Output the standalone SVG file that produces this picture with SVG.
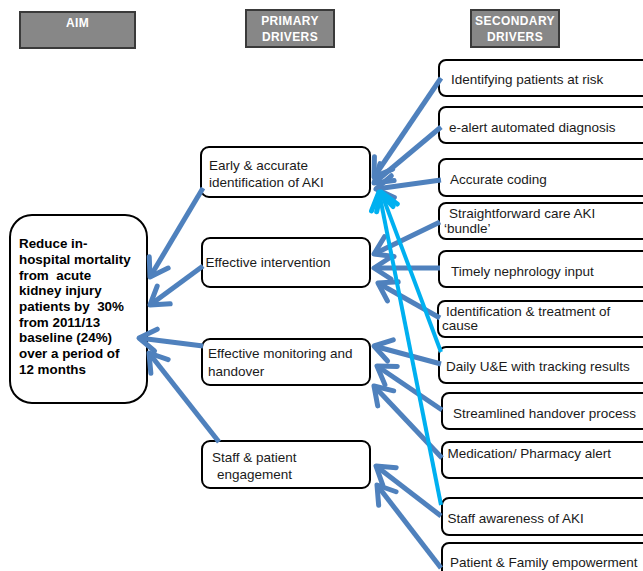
<svg xmlns="http://www.w3.org/2000/svg" width="643" height="571" viewBox="0 0 643 571">
<style>
  .hdr{fill:#878787;stroke:#3a3a3a;stroke-width:2}
  .htx{font-family:"Liberation Sans",Arial,sans-serif;font-weight:bold;font-size:12px;fill:#ffffff;letter-spacing:0.4px;text-anchor:middle}
  .box{fill:#ffffff;stroke:#000000;stroke-width:2}
  .tx{font-family:"Liberation Sans",Arial,sans-serif;font-size:13.5px;fill:#1a1a1a;white-space:pre}
  .aim{font-family:"Liberation Sans",Arial,sans-serif;font-size:13.4px;font-weight:bold;fill:#000000;white-space:pre}
  .ab{stroke:#4F81BD;stroke-width:5;fill:none}
  .ac{stroke:#00B0F0;stroke-width:4;fill:none}
</style>
<defs>
  <marker id="mb" markerUnits="userSpaceOnUse" markerWidth="26" markerHeight="26" viewBox="0 0 26 26" refX="21" refY="13" orient="auto" overflow="visible">
    <path d="M4,2 L21,13 L4,24" fill="none" stroke="#4F81BD" stroke-width="5" stroke-linejoin="round" stroke-linecap="round"/>
  </marker>
  <marker id="mc" markerUnits="userSpaceOnUse" markerWidth="26" markerHeight="26" viewBox="0 0 26 26" refX="21" refY="13" orient="auto" overflow="visible">
    <path d="M4,2 L21,13 L4,24" fill="none" stroke="#00B0F0" stroke-width="5" stroke-linejoin="round" stroke-linecap="round"/>
  </marker>
</defs>

<g id="headers">
  <g id="hdr-aim"><rect class="hdr" x="20" y="12" width="115" height="36"/><text class="htx" x="77.5" y="27">AIM</text></g>
  <g id="hdr-primary"><rect class="hdr" x="246" y="10" width="88" height="37"/><text class="htx" x="290" y="25">PRIMARY</text><text class="htx" x="290" y="41">DRIVERS</text></g>
  <g id="hdr-secondary"><rect class="hdr" x="471" y="10" width="88" height="37"/><text class="htx" x="515" y="25">SECONDARY</text><text class="htx" x="515" y="41">DRIVERS</text></g>
</g>

<g id="aim">
  <rect class="box" x="10" y="215" width="137" height="188" rx="22"/>
  <text class="aim" x="19" y="248">Reduce in-</text>
  <text class="aim" x="19" y="264">hospital mortality</text>
  <text class="aim" x="19" y="280">from  acute</text>
  <text class="aim" x="19" y="295">kidney injury</text>
  <text class="aim" x="19" y="311">patients by  30%</text>
  <text class="aim" x="19" y="327">from 2011/13</text>
  <text class="aim" x="19" y="342">baseline (24%)</text>
  <text class="aim" x="19" y="358">over a period of</text>
  <text class="aim" x="19" y="374">12 months</text>
</g>

<g id="p-early"><rect class="box" x="201" y="147" width="169" height="50" rx="8"/><text class="tx" x="209" y="169.5">Early &amp; accurate</text><text class="tx" x="209" y="187">identification of AKI</text></g>
<g id="p-intervention"><rect class="box" x="202" y="238" width="168" height="49" rx="8"/><text class="tx" x="205.5" y="267">Effective intervention</text></g>
<g id="p-monitoring"><rect class="box" x="202" y="339" width="168" height="46" rx="8"/><text class="tx" x="208" y="358">Effective monitoring and</text><text class="tx" x="208" y="376">handover</text></g>
<g id="p-engagement"><rect class="box" x="202" y="441" width="168" height="47" rx="8"/><text class="tx" x="212" y="462">Staff &amp; patient</text><text class="tx" x="217" y="479">engagement</text></g>

<g id="s-identifying"><rect class="box" x="439" y="60" width="220" height="36" rx="7"/><text class="tx" x="451" y="84">Identifying patients at risk</text></g>
<g id="s-ealert"><rect class="box" x="439" y="107" width="220" height="36" rx="7"/><text class="tx" x="449" y="132">e-alert automated diagnosis</text></g>
<g id="s-coding"><rect class="box" x="439" y="159" width="220" height="37" rx="7"/><text class="tx" x="450" y="184">Accurate coding</text></g>
<g id="s-bundle"><rect class="box" x="439" y="203" width="220" height="36" rx="7"/><text class="tx" x="449" y="218">Straightforward care AKI</text><text class="tx" x="444" y="233">‘bundle’</text></g>
<g id="s-nephrology"><rect class="box" x="439" y="251" width="220" height="36" rx="7"/><text class="tx" x="451" y="276">Timely nephrology input</text></g>
<g id="s-cause"><rect class="box" x="438" y="301" width="220" height="36" rx="7"/><text class="tx" x="446" y="316">Identification &amp; treatment of</text><text class="tx" x="442" y="330">cause</text></g>
<g id="s-daily"><rect class="box" x="439" y="347" width="220" height="36" rx="7"/><text class="tx" x="446" y="371">Daily U&amp;E with tracking results</text></g>
<g id="s-handover"><rect class="box" x="442" y="393" width="220" height="36" rx="7"/><text class="tx" x="453" y="418">Streamlined handover process</text></g>
<g id="s-medication"><rect class="box" x="442" y="442" width="220" height="36" rx="7"/><text class="tx" x="447.5" y="458">Medication/ Pharmacy alert</text></g>
<g id="s-awareness"><rect class="box" x="442" y="498" width="220" height="37" rx="7"/><text class="tx" x="447.5" y="523">Staff awareness of AKI</text></g>
<g id="s-empowerment"><rect class="box" x="442" y="543" width="220" height="40" rx="7"/><text class="tx" x="450" y="567">Patient &amp; Family empowerment</text></g>

<g id="connectors">
  <line class="ab" x1="203" y1="188" x2="150" y2="277" marker-end="url(#mb)"/>
  <line class="ab" x1="203" y1="266" x2="150" y2="305" marker-end="url(#mb)"/>
  <line class="ab" x1="203" y1="346" x2="139" y2="338" marker-end="url(#mb)"/>
  <line class="ab" x1="219" y1="442" x2="149" y2="353" marker-end="url(#mb)"/>

  <line class="ab" x1="441" y1="78" x2="374" y2="177" marker-end="url(#mb)"/>
  <line class="ab" x1="441" y1="127" x2="374" y2="183" marker-end="url(#mb)"/>
  <line class="ab" x1="441" y1="180" x2="376" y2="189" marker-end="url(#mb)"/>

  <line class="ab" x1="440" y1="222" x2="374" y2="254" marker-end="url(#mb)"/>
  <line class="ab" x1="440" y1="268" x2="374" y2="268" marker-end="url(#mb)"/>
  <line class="ab" x1="440" y1="318" x2="378" y2="283" marker-end="url(#mb)"/>

  <line class="ab" x1="441" y1="364" x2="374" y2="346" marker-end="url(#mb)"/>
  <line class="ab" x1="442" y1="410" x2="377" y2="366" marker-end="url(#mb)"/>
  <line class="ab" x1="442" y1="458" x2="374" y2="386" marker-end="url(#mb)"/>

  <line class="ab" x1="441" y1="516" x2="376" y2="466" marker-end="url(#mb)"/>
  <line class="ab" x1="441" y1="568" x2="377" y2="485" marker-end="url(#mb)"/>

  <line class="ac" x1="441" y1="352" x2="381" y2="192" marker-end="url(#mc)"/>
  <line class="ac" x1="441" y1="505" x2="379" y2="192" marker-end="url(#mc)"/>
</g>
</svg>
